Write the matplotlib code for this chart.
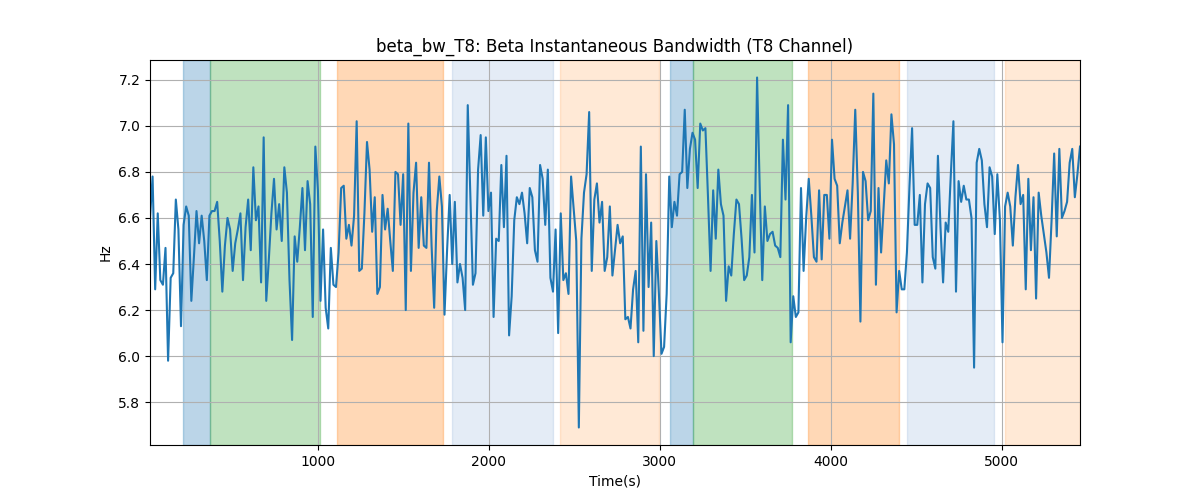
import numpy as np
import matplotlib
matplotlib.use("Agg")
import matplotlib.pyplot as plt

bw_part1 = [6.60, 6.78, 6.29, 6.62, 6.33, 6.31, 6.47, 5.98, 6.34, 6.36, 6.68, 6.55, 6.13, 6.57, 6.65,
            6.61, 6.24, 6.43, 6.63, 6.49, 6.61, 6.50, 6.33, 6.61, 6.63, 6.63, 6.67, 6.50, 6.28, 6.48,
            6.60, 6.55, 6.37, 6.49, 6.55, 6.62, 6.33, 6.56, 6.68, 6.46, 6.82, 6.59, 6.65, 6.32, 6.95,
            6.24, 6.42, 6.62, 6.77, 6.55, 6.66, 6.50, 6.82, 6.71, 6.33, 6.07, 6.52, 6.41, 6.56, 6.73,
            6.46]
bw_part2 = [6.76, 6.66, 6.17, 6.91, 6.72, 6.24, 6.55, 6.21, 6.12, 6.47, 6.31, 6.30, 6.45, 6.73, 6.74,
            6.51, 6.57, 6.48, 6.61, 7.02, 6.37, 6.38, 6.62, 6.93, 6.81, 6.54, 6.69, 6.27, 6.30, 6.70,
            6.55, 6.64, 6.50, 6.37, 6.80, 6.79, 6.57, 6.79, 6.20, 7.01, 6.37, 6.71, 6.84, 6.47, 6.69,
            6.48, 6.47, 6.84, 6.48, 6.21, 6.63, 6.78, 6.65, 6.18, 6.46, 6.70, 6.40, 6.67]
bw_part3 = [6.32, 6.40, 6.34, 6.20, 7.09, 6.70, 6.31, 6.36, 6.81, 6.96, 6.61, 6.95, 6.63, 6.71, 6.17,
            6.51, 6.50, 6.83, 6.56, 6.87, 6.09, 6.26, 6.59, 6.69, 6.66, 6.71, 6.62, 6.49, 6.73, 6.69,
            6.46, 6.41, 6.83, 6.77, 6.57, 6.81, 6.34, 6.28, 6.55, 6.10, 6.62, 6.33, 6.36, 6.27, 6.78,
            6.64, 6.50, 5.69, 6.51, 6.71, 6.79, 7.06, 6.37, 6.68, 6.75, 6.58, 6.67, 6.37, 6.43, 6.65]
bw_part4 = [6.35, 6.46, 6.57, 6.49, 6.52, 6.16, 6.17, 6.12, 6.29, 6.37, 6.06, 6.91, 6.11, 6.79, 6.30,
            6.58, 6.00, 6.50, 6.27, 6.01, 6.04, 6.27, 6.78, 6.56, 6.67, 6.61, 6.79, 6.80, 7.07, 6.73,
            6.90, 6.97, 6.94, 6.73, 7.01, 6.98, 6.99, 6.69, 6.37, 6.72, 6.51, 6.81, 6.66, 6.61, 6.24,
            6.39, 6.35, 6.53, 6.68, 6.66, 6.51, 6.33, 6.35, 6.43, 6.70, 6.45, 7.21, 6.74, 6.33, 6.65,
            6.50]
bw_part5 = [6.53, 6.54, 6.48, 6.47, 6.43, 6.94, 6.68, 7.09, 6.06, 6.26, 6.17, 6.19, 6.73, 6.37, 6.60,
            6.77, 6.61, 6.43, 6.41, 6.72, 6.42, 6.70, 6.70, 6.51, 6.94, 6.77, 6.74, 6.49, 6.58, 6.65,
            6.72, 6.51, 6.75, 7.07, 6.71, 6.15, 6.80, 6.76, 6.59, 6.63, 7.14, 6.31, 6.73, 6.45, 6.65,
            6.85, 6.75, 7.05, 6.92, 6.19, 6.37, 6.29, 6.29, 6.45, 6.74, 6.99, 6.57, 6.57, 6.70, 6.32]
bw_part6 = [6.66, 6.75, 6.73, 6.43, 6.38, 6.87, 6.56, 6.32, 6.58, 6.54, 6.79, 7.02, 6.28, 6.76, 6.67,
            6.74, 6.68, 6.68, 6.60, 5.95, 6.84, 6.90, 6.85, 6.66, 6.56, 6.82, 6.78, 6.53, 6.79, 6.59,
            6.06, 6.65, 6.71, 6.65, 6.48, 6.69, 6.83, 6.66, 6.70, 6.29, 6.77, 6.46, 6.69, 6.25, 6.71,
            6.61, 6.53, 6.45, 6.34, 6.59, 6.88, 6.52, 6.90, 6.60, 6.63, 6.67, 6.84, 6.90, 6.69, 6.79,
            6.91]

t_first = 19
t_last = 5457

# shaded intervals: (start, end, colour, alpha)
span_start = [212, 372, 1111, 1784, 2416, 3062, 3196, 3867, 4447, 5020]
span_end = [372, 1011, 1730, 2375, 2995, 3196, 3772, 4398, 4956, 5457]
span_color = ['tab:blue', 'tab:green', 'tab:orange', '#4b80c3', 'tab:orange',
              'tab:blue', 'tab:green', 'tab:orange', '#4b80c3', 'tab:orange']
span_alpha = [0.3, 0.3, 0.3, 0.15, 0.17, 0.3, 0.3, 0.3, 0.15, 0.17]

bw = np.array(bw_part1 + bw_part2 + bw_part3 + bw_part4 + bw_part5 + bw_part6)
t = np.linspace(t_first, t_last, len(bw))

fig, ax = plt.subplots(figsize=(12, 5), dpi=100)
for s, e, c, a in zip(span_start, span_end, span_color, span_alpha):
    ax.axvspan(s, e, color=c, alpha=a)
ax.plot(t, bw, color='tab:blue')
ax.set_xlim(t_first, t_last)
ax.grid(True)
ax.set_title('beta_bw_T8: Beta Instantaneous Bandwidth (T8 Channel)')
ax.set_xlabel('Time(s)')
ax.set_ylabel('Hz')
fig.savefig('out.png')
